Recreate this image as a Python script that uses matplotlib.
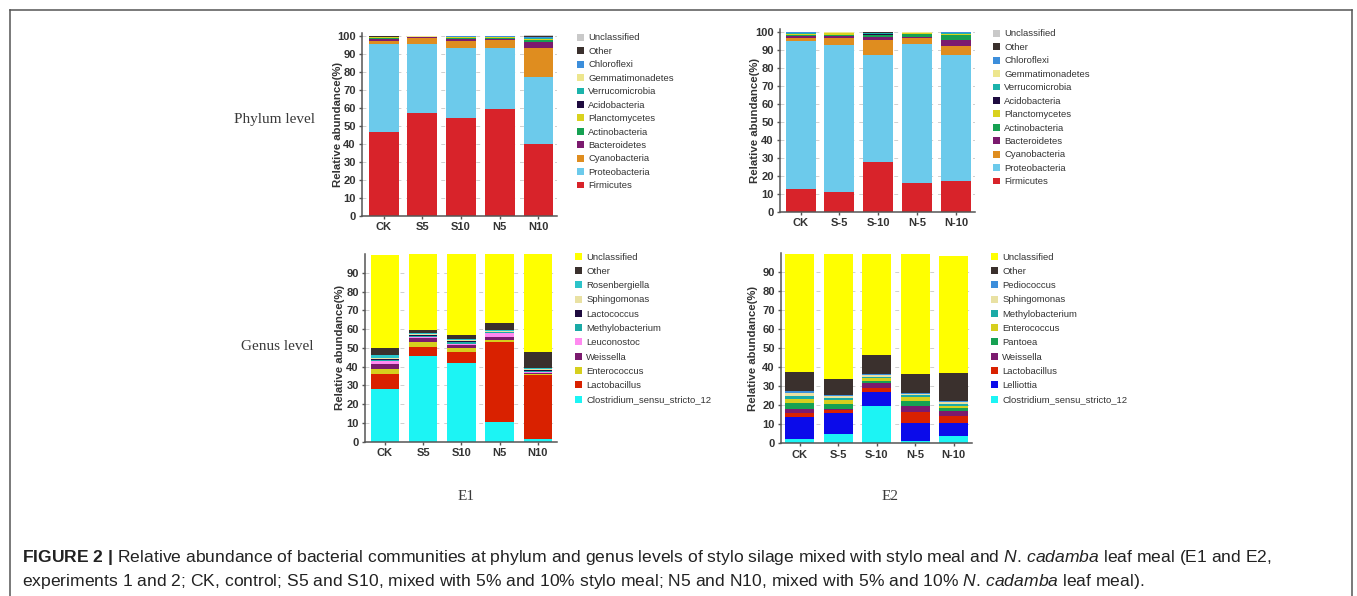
import matplotlib
matplotlib.use("Agg")
import matplotlib.pyplot as plt
import numpy as np
from matplotlib.lines import Line2D

# --- data (% relative abundance) ---
samples_e1 = ["CK", "S5", "S10", "N5", "N10"]
samples_e2 = ["CK", "S-5", "S-10", "N-5", "N-10"]

phylum_taxa = ["Firmicutes", "Proteobacteria", "Cyanobacteria", "Bacteroidetes",
               "Actinobacteria", "Planctomycetes", "Acidobacteria", "Verrucomicrobia",
               "Gemmatimonadetes", "Chloroflexi", "Other", "Unclassified"]

phylum_e1 = {
    "Firmicutes":       [46.5, 57.5, 54.2, 59.3, 40.2],
    "Proteobacteria":   [49.2, 38.3, 39.2, 34.1, 37.2],
    "Cyanobacteria":    [1.3, 3.2, 4.0, 4.5, 16.1],
    "Bacteroidetes":    [1.1, 0.3, 0.7, 0.6, 3.3],
    "Actinobacteria":   [0.8, 0.1, 0.7, 0.6, 0.8],
    "Planctomycetes":   [0.3, 0.1, 0.4, 0.2, 0.7],
    "Acidobacteria":    [0.1, 0.1, 0.1, 0.1, 0.2],
    "Verrucomicrobia":  [0.2, 0.1, 0.2, 0.2, 0.4],
    "Gemmatimonadetes": [0.1, 0.05, 0.2, 0.1, 0.2],
    "Chloroflexi":      [0.1, 0.1, 0.1, 0.1, 0.5],
    "Other":            [0.1, 0.1, 0.1, 0.1, 0.5],
    "Unclassified":     [0.2, 0.05, 0.1, 0.1, 0.2],
}

phylum_e2 = {
    "Firmicutes":       [12.6, 11.3, 28.0, 16.1, 17.2],
    "Proteobacteria":   [82.4, 81.5, 59.2, 77.4, 70.0],
    "Cyanobacteria":    [1.5, 4.1, 8.4, 2.9, 5.3],
    "Bacteroidetes":    [1.1, 1.1, 1.6, 1.1, 3.2],
    "Actinobacteria":   [1.0, 0.6, 0.9, 1.2, 2.4],
    "Planctomycetes":   [0.4, 0.8, 0.2, 0.5, 0.7],
    "Acidobacteria":    [0.1, 0.1, 0.6, 0.1, 0.1],
    "Verrucomicrobia":  [0.4, 0.2, 0.4, 0.3, 0.5],
    "Gemmatimonadetes": [0.2, 0.2, 0.2, 0.2, 0.2],
    "Chloroflexi":      [0.1, 0.1, 0.2, 0.1, 0.2],
    "Other":            [0.1, 0.1, 0.2, 0.1, 0.1],
    "Unclassified":     [0.1, 0.1, 0.1, 0.1, 0.1],
}

genus_e1_taxa = ["Clostridium_sensu_stricto_12", "Lactobacillus", "Enterococcus", "Weissella",
                 "Leuconostoc", "Methylobacterium", "Lactococcus", "Sphingomonas",
                 "Rosenbergiella", "Other", "Unclassified"]

genus_e1 = {
    "Clostridium_sensu_stricto_12": [28.0, 45.6, 42.1, 10.7, 1.2],
    "Lactobacillus":    [7.9, 5.0, 5.8, 42.6, 34.3],
    "Enterococcus":     [3.0, 2.7, 2.1, 0.9, 0.7],
    "Weissella":        [2.5, 1.7, 1.5, 1.7, 0.6],
    "Leuconostoc":      [1.7, 1.0, 0.8, 1.8, 0.2],
    "Methylobacterium": [0.5, 0.5, 0.6, 0.5, 0.7],
    "Lactococcus":      [0.7, 0.4, 0.8, 0.5, 0.3],
    "Sphingomonas":     [0.5, 0.3, 0.4, 0.3, 0.5],
    "Rosenbergiella":   [1.5, 0.6, 0.5, 0.6, 0.8],
    "Other":            [3.6, 1.5, 2.4, 3.4, 8.3],
    "Unclassified":     [49.5, 40.6, 43.0, 37.0, 52.4],
}

genus_e2_taxa = ["Clostridium_sensu_stricto_12", "Lelliottia", "Lactobacillus", "Weissella",
                 "Pantoea", "Enterococcus", "Methylobacterium", "Sphingomonas",
                 "Pediococcus", "Other", "Unclassified"]

genus_e2 = {
    "Clostridium_sensu_stricto_12": [2.3, 4.9, 19.6, 1.2, 4.0],
    "Lelliottia":       [11.7, 11.2, 7.1, 9.6, 6.6],
    "Lactobacillus":    [2.1, 1.4, 2.3, 5.8, 3.5],
    "Weissella":        [1.7, 0.7, 2.5, 3.1, 3.0],
    "Pantoea":          [3.3, 2.6, 1.3, 2.3, 1.4],
    "Enterococcus":     [2.3, 2.1, 1.3, 2.1, 1.2],
    "Methylobacterium": [1.6, 1.0, 0.8, 1.1, 1.1],
    "Sphingomonas":     [1.2, 0.7, 0.8, 0.6, 0.8],
    "Pediococcus":      [1.1, 0.7, 0.6, 0.6, 0.7],
    "Other":            [9.9, 8.6, 9.8, 10.1, 14.4],
    "Unclassified":     [62.1, 65.4, 53.1, 62.8, 61.6],
}

caption_line1 = (r"$\mathbf{FIGURE\ 2\ |}$ Relative abundance of bacterial communities at phylum and genus "
                 r"levels of stylo silage mixed with stylo meal and $\mathit{N.\,cadamba}$ "
                 r"leaf meal (E1 and E2,")
caption_line2 = (r"experiments 1 and 2; CK, control; S5 and S10, mixed with 5% and 10% stylo meal; "
                 r"N5 and N10, mixed with 5% and 10% $\mathit{N.\,cadamba}$ leaf meal).")

# --- styles ---
phylum_colors = {
    "Firmicutes": "#D8232A", "Proteobacteria": "#6CCAEB", "Cyanobacteria": "#DF8D1F",
    "Bacteroidetes": "#7B1A6E", "Actinobacteria": "#16A152", "Planctomycetes": "#D9D21E",
    "Acidobacteria": "#1E0B3F", "Verrucomicrobia": "#1BB3AB", "Gemmatimonadetes": "#EDE68E",
    "Chloroflexi": "#3C8EDB", "Other": "#3A302D", "Unclassified": "#C9C9C9",
}
genus_colors = {
    "Clostridium_sensu_stricto_12": "#1CF4F4", "Lactobacillus": "#D92100",
    "Enterococcus": "#D6CF1E", "Weissella": "#7B1A6E", "Leuconostoc": "#FF8AF0",
    "Methylobacterium": "#1AAAA6", "Lactococcus": "#1E0B3F", "Sphingomonas": "#E9E1A3",
    "Rosenbergiella": "#2CC3C9", "Lelliottia": "#0B0BEA", "Pantoea": "#16A152",
    "Pediococcus": "#3C8EDB", "Other": "#3A302D", "Unclassified": "#FFFF00",
}

W, H = 1357, 596
plt.rcParams.update({
    "font.family": ["Liberation Sans", "DejaVu Sans"],
    "mathtext.fontset": "custom",
    "mathtext.rm": "Liberation Sans",
    "mathtext.bf": "Liberation Sans:bold",
    "mathtext.it": "Liberation Sans:italic",
})


def px_rect(left, top, right, bottom):
    return [left / W, 1 - bottom / H, (right - left) / W, (bottom - top) / H]


def stacked_panel(fig, rect, samples, taxa, values, colors, ymax, yticks, xlim, width,
                  legend_xy, labelspacing, label_x):
    ax = fig.add_axes(rect)
    x = np.arange(len(samples))
    bottom = np.zeros(len(samples))
    handles = []
    for taxon in taxa:
        vals = np.array(values[taxon], dtype=float)
        bars = ax.bar(x, vals, width=width, bottom=bottom, color=colors[taxon],
                      edgecolor="none", label=taxon, zorder=2)
        handles.append(bars)
        bottom += vals
    ax.set_xlim(*xlim)
    ax.set_ylim(0, ymax)
    ax.set_yticks(yticks)
    ax.set_xticks(x)
    ax.set_xticklabels(samples)
    for side in ("top", "right"):
        ax.spines[side].set_visible(False)
    for side in ("left", "bottom"):
        ax.spines[side].set_color("#555555")
        ax.spines[side].set_linewidth(1.1)
    ax.tick_params(axis="both", length=2.5, width=1.0, color="#555555", pad=2,
                   labelsize=8, labelcolor="#333333")
    for lab in ax.get_xticklabels() + ax.get_yticklabels():
        lab.set_fontweight("bold")
    ax.yaxis.grid(True, linestyle=(0, (4, 5)), color="#CFCFCF", linewidth=0.7, zorder=0)
    ax.set_axisbelow(True)
    ax.set_ylabel("Relative abundance(%)", fontsize=8.2, fontweight="bold", color="#333333")
    ax.yaxis.set_label_coords(label_x, 0.5)
    ax.legend(handles[::-1], taxa[::-1], loc="upper left",
              bbox_to_anchor=(legend_xy[0] / W, 1 - legend_xy[1] / H),
              bbox_transform=fig.transFigure, frameon=False, fontsize=6.8,
              handlelength=0.75, handleheight=0.75, handletextpad=0.45,
              labelspacing=labelspacing, borderpad=0, borderaxespad=0,
              labelcolor="#333333")
    return ax


fig = plt.figure(figsize=(W / 100, H / 100), dpi=100)
fig.patch.set_facecolor("white")

stacked_panel(fig, px_rect(362, 33.3, 557, 216), samples_e1, phylum_taxa, phylum_e1,
              phylum_colors, 101.5, range(0, 101, 10), (-0.56, 4.48), 0.77,
              (577, 33.5), 0.47, -0.097)
stacked_panel(fig, px_rect(780, 29.3, 975, 212), samples_e2, phylum_taxa, phylum_e2,
              phylum_colors, 101.5, range(0, 101, 10), (-0.53, 4.49), 0.77,
              (993, 29.5), 0.47, -0.103)
stacked_panel(fig, px_rect(365, 254, 557, 441.7), samples_e1, genus_e1_taxa, genus_e1,
              genus_colors, 100, range(0, 91, 10), (-0.52, 4.5), 0.75,
              (575, 252.5), 0.56, -0.104)
stacked_panel(fig, px_rect(781, 252.6, 972, 443.3), samples_e2, genus_e2_taxa, genus_e2,
              genus_colors, 100, range(0, 91, 10), (-0.49, 4.48), 0.75,
              (991, 252.5), 0.56, -0.12)

serif = ["Liberation Serif", "DejaVu Serif"]
fig.text(274 / W, 1 - 119 / H, "Phylum level", family=serif, fontsize=11, color="#3A3A3A",
         ha="center", va="center")
fig.text(277 / W, 1 - 347 / H, "Genus level", family=serif, fontsize=11, color="#3A3A3A",
         ha="center", va="center")
fig.text(466 / W, 1 - 497 / H, "E1", family=serif, fontsize=11, color="#3A3A3A",
         ha="center", va="center")
fig.text(890 / W, 1 - 497 / H, "E2", family=serif, fontsize=11, color="#3A3A3A",
         ha="center", va="center")

fig.text(22 / W, 1 - 562 / H, caption_line1, fontsize=12.6, color="#222222",
         ha="left", va="baseline")
fig.text(22 / W, 1 - 586 / H, caption_line2, fontsize=12.6, color="#222222",
         ha="left", va="baseline")

# outer frame (open at the bottom)
frame_kw = dict(color="#555555", linewidth=1.1, transform=fig.transFigure)
fig.add_artist(Line2D([10 / W, 1352 / W], [1 - 10 / H, 1 - 10 / H], **frame_kw))
fig.add_artist(Line2D([10 / W, 10 / W], [1 - 10 / H, 0], **frame_kw))
fig.add_artist(Line2D([1352 / W, 1352 / W], [1 - 10 / H, 0], **frame_kw))

fig.savefig("out.png", dpi=100, facecolor="white")
plt.close(fig)
